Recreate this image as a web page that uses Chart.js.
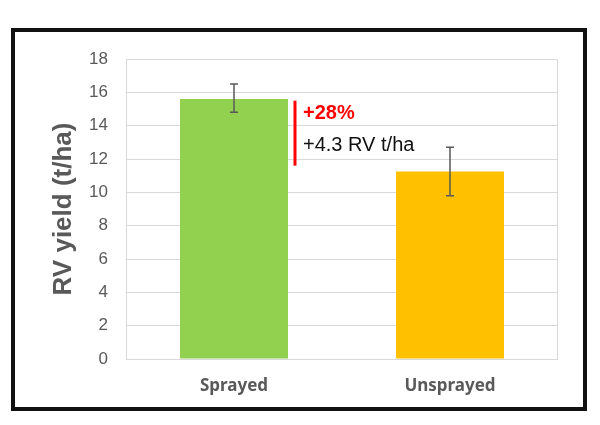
<!DOCTYPE html>
<html>
<head>
<meta charset="utf-8">
<script src="https://cdn.jsdelivr.net/npm/chart.js@4.4.0/dist/chart.umd.min.js"></script>
<style>
  html, body { margin: 0; padding: 0; background: #fff; }
  #wrap { width: 600px; height: 425px; }
</style>
</head>
<body>
<div id="wrap"><canvas id="yieldChart" width="600" height="425"></canvas></div>
<script>
// dados
const categorias = ['Sprayed', 'Unsprayed'];
const rendimento = [15.6, 11.25];
const erroMin = [14.8, 9.8];
const erroMax = [16.5, 12.7];
const diferenca = { topo: 15.5, base: 11.6, percent: '+28%', texto: '+4.3 RV t/ha' };

const cinza = '#595959';

// moldura preta em volta do gráfico
const moldura = {
    id: 'moldura',
    afterDraw(chart) {
        const ctx = chart.ctx;
        ctx.save();
        ctx.strokeStyle = '#111';
        ctx.lineWidth = 4;
        ctx.strokeRect(13, 30, 572, 379);
        ctx.restore();
    }
};

// borda da área de plotagem
const bordaArea = {
    id: 'bordaArea',
    beforeDatasetsDraw(chart) {
        const a = chart.chartArea;
        const ctx = chart.ctx;
        ctx.save();
        ctx.strokeStyle = '#d9d9d9';
        ctx.lineWidth = 1;
        ctx.strokeRect(a.left + 0.5, a.top + 0.5, a.right - a.left - 1, a.bottom - a.top);
        ctx.restore();
    }
};

// barras de erro
const barrasErro = {
    id: 'barrasErro',
    afterDatasetsDraw(chart) {
        const ctx = chart.ctx;
        const y = chart.scales.y;
        const meta = chart.getDatasetMeta(0);
        ctx.save();
        ctx.strokeStyle = cinza;
        ctx.lineWidth = 1.5;
        meta.data.forEach((bar, i) => {
            const x = bar.x;
            const yTop = y.getPixelForValue(erroMax[i]);
            const yBot = y.getPixelForValue(erroMin[i]);
            ctx.beginPath();
            ctx.moveTo(x, yTop); ctx.lineTo(x, yBot);
            ctx.moveTo(x - 4, yTop); ctx.lineTo(x + 4, yTop);
            ctx.moveTo(x - 4, yBot); ctx.lineTo(x + 4, yBot);
            ctx.stroke();
        });
        ctx.restore();
    }
};

// anotação da diferença entre tratamentos
const anotacao = {
    id: 'anotacao',
    afterDatasetsDraw(chart) {
        const ctx = chart.ctx;
        const y = chart.scales.y;
        const bar = chart.getDatasetMeta(0).data[0];
        const x = bar.x + bar.width / 2 + 7;
        const yTop = y.getPixelForValue(diferenca.topo);
        const yBot = y.getPixelForValue(diferenca.base);
        ctx.save();
        ctx.strokeStyle = '#ff0000';
        ctx.lineWidth = 3;
        ctx.beginPath();
        ctx.moveTo(x, yTop); ctx.lineTo(x, yBot);
        ctx.stroke();
        ctx.textBaseline = 'middle';
        ctx.textAlign = 'left';
        ctx.fillStyle = '#ff0000';
        ctx.font = 'bold 20px "Liberation Sans", Arial, sans-serif';
        ctx.fillText(diferenca.percent, x + 8, yTop + 13);
        ctx.fillStyle = '#111';
        ctx.font = '20px "Liberation Sans", Arial, sans-serif';
        ctx.fillText(diferenca.texto, x + 8, yTop + 45);
        ctx.restore();
    }
};

new Chart(document.getElementById('yieldChart'), {
    type: 'bar',
    data: {
        labels: categorias,
        datasets: [{
            data: rendimento,
            backgroundColor: ['#92d050', '#ffc000'],
            borderWidth: 0,
            barPercentage: 0.5,
            categoryPercentage: 1.0
        }]
    },
    options: {
        responsive: false,
        animation: false,
        layout: { padding: { top: 59, right: 42, bottom: 16, left: 0 } },
        plugins: {
            legend: { display: false },
            tooltip: { enabled: false }
        },
        scales: {
            x: {
                grid: { display: false },
                border: { display: false },
                ticks: {
                    color: cinza,
                    padding: 9,
                    font: { family: '"Noto Sans", sans-serif', size: 17, weight: 'bold' }
                },
                afterFit(scale) { scale.height = 50; }
            },
            y: {
                min: 0,
                max: 18,
                ticks: {
                    stepSize: 2,
                    color: cinza,
                    padding: 18,
                    font: { family: '"Liberation Sans", Arial, sans-serif', size: 17 }
                },
                grid: { color: '#d9d9d9', drawTicks: false },
                border: { display: false },
                title: {
                    display: true,
                    text: 'RV yield (t/ha)',
                    color: cinza,
                    padding: { top: 48, bottom: 0 },
                    font: { family: '"Liberation Sans", Arial, sans-serif', size: 26, weight: 'bold' }
                },
                afterFit(scale) { scale.width = 126; }
            }
        }
    },
    plugins: [bordaArea, barrasErro, anotacao, moldura]
});
</script>
</body>
</html>
